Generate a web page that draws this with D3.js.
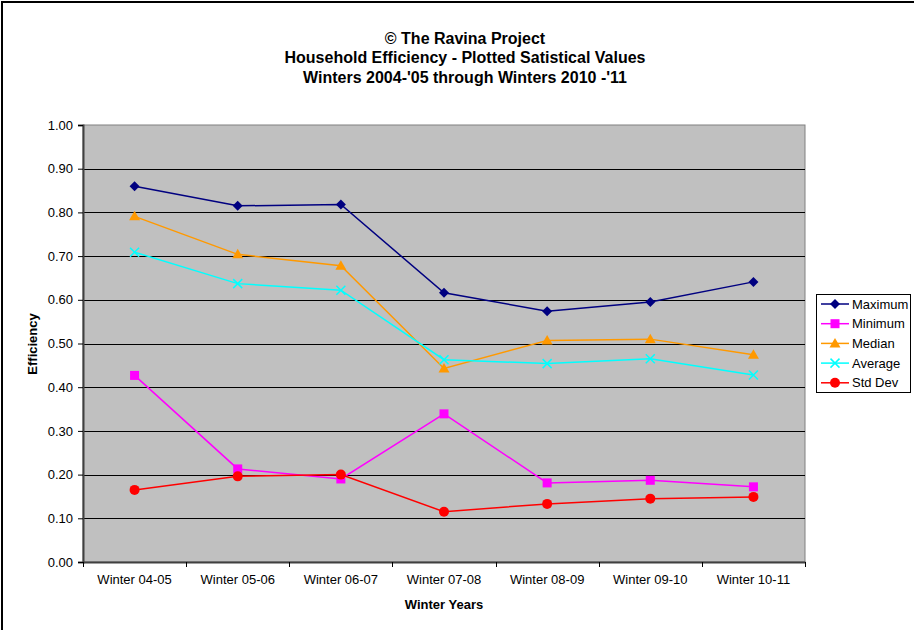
<!DOCTYPE html>
<html>
<head>
<meta charset="utf-8">
<script src="https://cdn.jsdelivr.net/npm/d3@7"></script>
<style>
  html, body { margin: 0; padding: 0; background: #fff; }
  svg { display: block; font-family: "Liberation Sans", Arial, sans-serif; }
</style>
</head>
<body>
<svg id="chart" width="914" height="630"></svg>
<script>
// Winter seasons on the category axis
const categories = ["Winter 04-05", "Winter 05-06", "Winter 06-07", "Winter 07-08",
                    "Winter 08-09", "Winter 09-10", "Winter 10-11"];

// Statistical values of household efficiency per winter
const maximum = [0.860, 0.815, 0.818, 0.616, 0.574, 0.595, 0.641];
const minimum = [0.427, 0.213, 0.190, 0.339, 0.181, 0.187, 0.172];
const median  = [0.791, 0.704, 0.678, 0.443, 0.507, 0.510, 0.474];
const average = [0.709, 0.637, 0.622, 0.463, 0.454, 0.465, 0.428];
const stdDev  = [0.165, 0.196, 0.200, 0.115, 0.133, 0.145, 0.149];

const yTicks = [0, 0.1, 0.2, 0.3, 0.4, 0.5, 0.6, 0.7, 0.8, 0.9, 1.0];

const titleLines = ["© The Ravina Project",
                    "Household Efficiency - Plotted Satistical Values",
                    "Winters 2004-'05 through Winters 2010 -'11"];

const series = [
  { name: "Maximum", values: maximum, color: "#000080", symbol: "diamond" },
  { name: "Minimum", values: minimum, color: "#FF00FF", symbol: "square" },
  { name: "Median",  values: median,  color: "#FF9900", symbol: "triangle" },
  { name: "Average", values: average, color: "#00FFFF", symbol: "cross" },
  { name: "Std Dev", values: stdDev,  color: "#FF0000", symbol: "circle" }
];

const svg = d3.select("#chart");

// outer chart frame (extends past the right and bottom edges)
svg.append("rect")
  .attr("x", 2).attr("y", 2).attr("width", 940).attr("height", 660)
  .attr("fill", "#fff").attr("stroke", "#000").attr("stroke-width", 2);

const plot = { left: 83, top: 125, right: 805, bottom: 562 };

const x = d3.scaleBand().domain(categories).range([plot.left, plot.right]);
const y = d3.scaleLinear().domain([0, 1]).range([plot.bottom, plot.top]);
const cx = d => x(d) + x.bandwidth() / 2;

// plot background
svg.append("rect")
  .attr("x", plot.left).attr("y", plot.top)
  .attr("width", plot.right - plot.left).attr("height", plot.bottom - plot.top)
  .attr("fill", "#C0C0C0").attr("stroke", "#808080").attr("stroke-width", 1);

// horizontal gridlines
svg.append("g").selectAll("line")
  .data(yTicks.filter(t => t > 0 && t < 1))
  .join("line")
  .attr("x1", plot.left).attr("x2", plot.right)
  .attr("y1", d => Math.round(y(d)) + 0.5).attr("y2", d => Math.round(y(d)) + 0.5)
  .attr("stroke", "#000").attr("stroke-width", 1);

// y axis
const yAxis = d3.axisLeft(y).tickValues(yTicks).tickFormat(d3.format(".2f"))
  .tickSize(5).tickPadding(5);
const gy = svg.append("g").attr("transform", `translate(${plot.left},0)`).call(yAxis);
gy.select(".domain").attr("stroke", "#404040").attr("stroke-width", 2);
gy.selectAll(".tick line").attr("stroke", "#000");
gy.selectAll(".tick text").attr("font-size", 13).attr("fill", "#000")
  .attr("font-family", "Liberation Sans, Arial, sans-serif");

// x axis: ticks sit between categories
const xAxis = d3.axisBottom(x).tickSize(0).tickPadding(13);
const gx = svg.append("g").attr("transform", `translate(0,${plot.bottom})`).call(xAxis);
gx.select(".domain").attr("stroke", "#404040").attr("stroke-width", 2);
gx.selectAll(".tick text").attr("font-size", 13).attr("fill", "#000")
  .attr("font-family", "Liberation Sans, Arial, sans-serif");
const bounds = categories.map(c => x(c)).concat([x(categories[categories.length - 1]) + x.bandwidth()]);
svg.append("g").selectAll("line").data(bounds).join("line")
  .attr("x1", d => Math.round(d) + 0.5).attr("x2", d => Math.round(d) + 0.5)
  .attr("y1", plot.bottom).attr("y2", plot.bottom + 5)
  .attr("stroke", "#000");

// titles
svg.append("g").selectAll("text").data(titleLines).join("text")
  .attr("x", 465).attr("y", (d, i) => 43.5 + i * 19.6)
  .attr("text-anchor", "middle").attr("font-size", 16).attr("font-weight", "bold")
  .text(d => d);

svg.append("text")
  .attr("x", 444).attr("y", 609)
  .attr("text-anchor", "middle").attr("font-size", 13).attr("font-weight", "bold")
  .text("Winter Years");

svg.append("text")
  .attr("transform", "translate(37,344) rotate(-90)")
  .attr("text-anchor", "middle").attr("font-size", 13).attr("font-weight", "bold")
  .text("Efficiency");

// marker drawing
function drawMarker(sel, s) {
  if (s.symbol === "diamond") {
    sel.append("path").attr("d", "M0,-5L5,0L0,5L-5,0Z").attr("fill", s.color);
  } else if (s.symbol === "square") {
    sel.append("rect").attr("x", -4.5).attr("y", -4.5).attr("width", 9).attr("height", 9)
      .attr("fill", s.color);
  } else if (s.symbol === "triangle") {
    sel.append("path").attr("d", "M0,-5.5L5.5,4L-5.5,4Z").attr("fill", s.color);
  } else if (s.symbol === "cross") {
    sel.append("path").attr("d", "M-4.5,-4.5L4.5,4.5M-4.5,4.5L4.5,-4.5")
      .attr("stroke", s.color).attr("stroke-width", 1.5).attr("fill", "none");
  } else {
    sel.append("circle").attr("r", 5).attr("fill", s.color);
  }
}

const line = d3.line().x((d, i) => cx(categories[i])).y(d => y(d));

series.forEach(s => {
  const g = svg.append("g");
  g.append("path").datum(s.values).attr("d", line)
    .attr("fill", "none").attr("stroke", s.color).attr("stroke-width", 1.5);
  s.values.forEach((v, i) => {
    const m = g.append("g").attr("transform", `translate(${cx(categories[i])},${y(v)})`);
    drawMarker(m, s);
  });
});

// legend
const legend = svg.append("g");
legend.append("rect")
  .attr("x", 816.5).attr("y", 294.5).attr("width", 94).attr("height", 98)
  .attr("fill", "#fff").attr("stroke", "#000").attr("stroke-width", 1);
series.forEach((s, i) => {
  const ly = 304 + i * 19.7;
  const row = legend.append("g");
  row.append("line").attr("x1", 821).attr("x2", 849).attr("y1", ly).attr("y2", ly)
    .attr("stroke", s.color).attr("stroke-width", 1.5);
  drawMarker(row.append("g").attr("transform", `translate(835,${ly})`), s);
  row.append("text").attr("x", 852).attr("y", ly + 4.5).attr("font-size", 13)
    .text(s.name);
});
</script>
</body>
</html>
